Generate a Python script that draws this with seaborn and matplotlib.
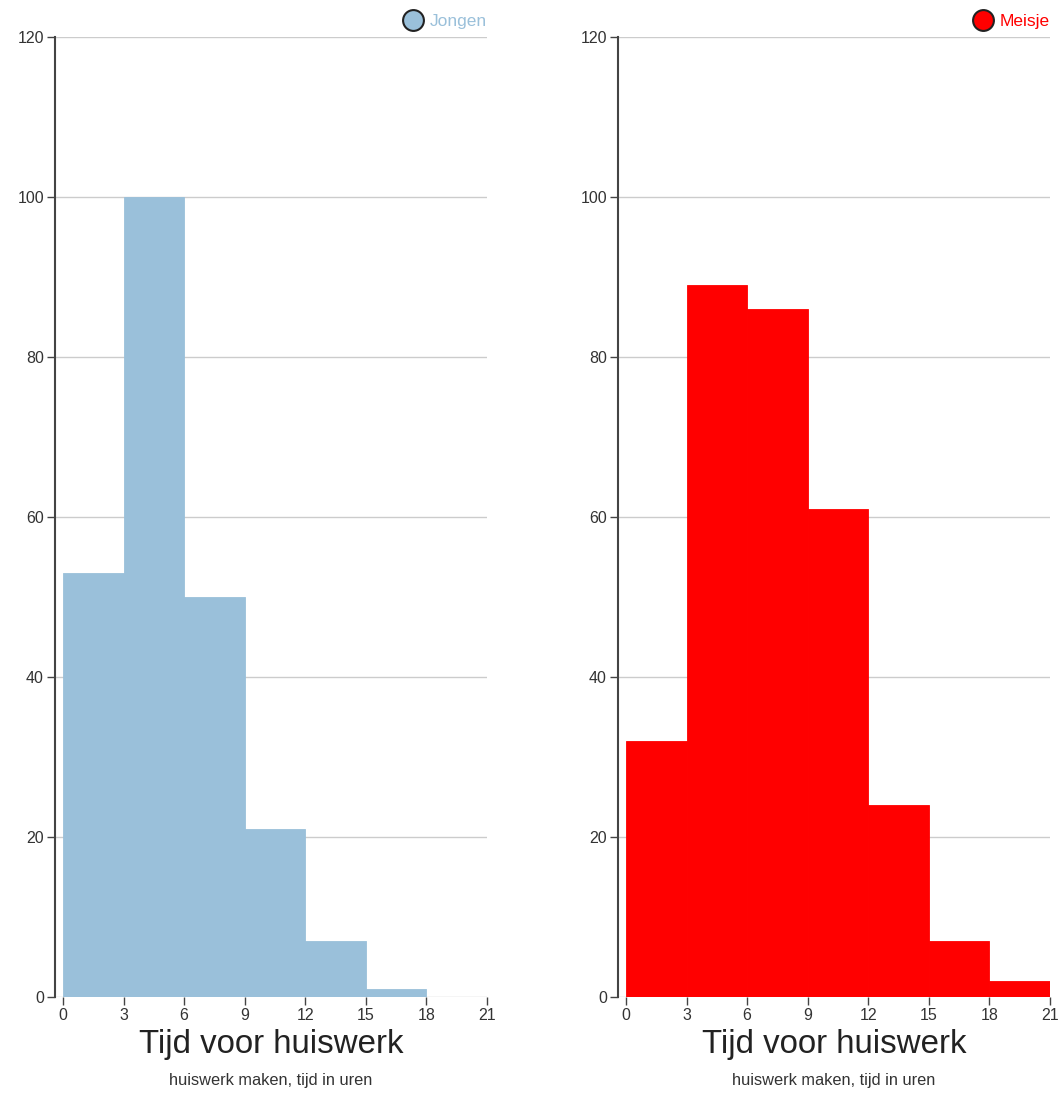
import matplotlib
matplotlib.use("Agg")
import matplotlib.pyplot as plt
from matplotlib.lines import Line2D
import seaborn as sns
import numpy as np

# Weekly homework time (hours), binned in 3-hour classes
bin_edges = [0, 3, 6, 9, 12, 15, 18, 21]
bin_starts = [0, 3, 6, 9, 12, 15, 18]
jongen_counts = [53, 100, 50, 21, 7, 1, 0]
meisje_counts = [32, 89, 86, 61, 24, 7, 2]

groups = ["Jongen", "Meisje"]
colors = ["#9ac0da", "#ff0000"]
series = [jongen_counts, meisje_counts]

x_ticks = [0, 3, 6, 9, 12, 15, 18, 21]
y_ticks = [0, 20, 40, 60, 80, 100, 120]
x_title = "Tijd voor huiswerk"
x_subtitle = "huiswerk maken, tijd in uren"

sns.set_theme(style="white")
plt.rcParams["font.family"] = ["Liberation Sans", "DejaVu Sans"]

W, H = 1061, 1095
fig = plt.figure(figsize=(W / 100, H / 100), dpi=100)

panels = [(55, 487), (618, 1050)]
top_px, bottom_px = 37, 997
axis_color = "#444444"
text_color = "#333333"

for (left_px, right_px), name, col, counts in zip(panels, groups, colors, series):
    ax = fig.add_axes([left_px / W, 1 - bottom_px / H,
                       (right_px - left_px) / W, (bottom_px - top_px) / H])
    sns.histplot(x=bin_starts, weights=counts, bins=bin_edges, ax=ax,
                 color=col, alpha=1, edgecolor=col, linewidth=0.6, zorder=2)
    ppx = 21 / (right_px - left_px - 8)
    ax.set_xlim(-8 * ppx, 21)
    ax.set_ylim(0, 120)
    ax.set_xticks(x_ticks)
    ax.set_yticks(y_ticks)
    ax.set_ylabel("")
    ax.set_xlabel("")
    ax.yaxis.grid(True, color="#cccccc", linewidth=1.0, zorder=0)
    ax.set_axisbelow(True)
    for s in ["top", "right", "bottom"]:
        ax.spines[s].set_visible(False)
    ax.spines["left"].set_color(axis_color)
    ax.spines["left"].set_linewidth(1.5)
    ax.tick_params(axis="both", which="both", length=6, width=1,
                   color=axis_color, labelcolor=text_color,
                   labelsize=11.5, pad=2)
    ax.tick_params(axis="x", bottom=True)
    ax.tick_params(axis="y", left=True)

    cx = (left_px + right_px) / 2 / W
    fig.text(cx, 1 - 1045 / H, x_title, ha="center", va="center",
             fontsize=23.8, color="#222222")
    fig.text(cx, 1 - 1081 / H, x_subtitle, ha="center", va="center",
             fontsize=11.8, color=text_color)

    handle = Line2D([], [], linestyle="none", marker="o", markersize=15,
                    markerfacecolor=col, markeredgecolor="#222222",
                    markeredgewidth=1.5)
    ax.legend([handle], [name], loc="center right",
              bbox_to_anchor=(right_px / W, 1 - 21 / H),
              bbox_transform=fig.transFigure, frameon=False,
              borderaxespad=0, borderpad=0, handletextpad=0.45,
              handlelength=1.0, fontsize=12.5, labelcolor=col)

fig.savefig("out.png", dpi=100, facecolor="white")
